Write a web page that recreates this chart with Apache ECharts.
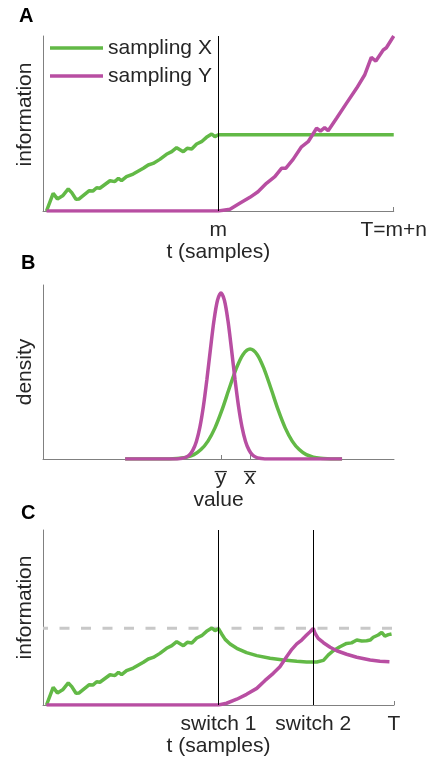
<!DOCTYPE html>
<html>
<head>
<meta charset="utf-8">
<script src="https://cdn.jsdelivr.net/npm/echarts@6/dist/echarts.min.js"></script>
<style>
  html, body { margin: 0; background: #fff; }
  #chart { width: 430px; height: 759px; }
</style>
</head>
<body>
<div id="chart"></div>
<script>
// t in samples (0..100), information in % of axis height
const greenRise = [
  [1, 0], [2.9, 10.1], [4.1, 6.9], [5.6, 8.7], [7.2, 12.6], [8.2, 10.5], [9.4, 6.7],
  [10.3, 6.9], [13.2, 11.6], [14.2, 11.4], [15.3, 13.3], [16.2, 13.0], [19.1, 17.3],
  [20.5, 16.8], [21.5, 18.7], [22.4, 17.3], [23.8, 19.6], [25.7, 21.1], [28.6, 24.4],
  [30.0, 26.3], [31.4, 27.2], [33.3, 29.5], [35.2, 32.4], [36.7, 33.9], [38.1, 36.2],
  [40.0, 33.9], [41.1, 35.8], [42.4, 35.4], [43.8, 38.3], [45.2, 39.6], [46.6, 42.1],
  [48.1, 44.0], [49.0, 42.5], [50, 43.6]
];
const greenHoldA = [[50, 43.6], [100, 43.6]];
const magentaA = [
  [1, 0], [50, 0], [53.3, 1.0], [56.1, 4.4], [59, 7.8], [61.3, 11.0], [63.7, 15.8],
  [66.1, 19.6], [68, 24.4], [69.2, 24.4], [71.3, 29.5], [73.7, 36.7], [75.6, 39.6],
  [78, 47.3], [79.1, 45.7], [80.3, 47.6], [81.3, 45.9], [83.7, 53], [86.5, 61.5],
  [89.4, 70.1], [91.7, 77.7], [93.6, 87.8], [94.9, 85.7], [97, 92], [97.9, 93.3], [100, 100]
];
const ticksA = [50, 100];
const tickLabelsA = ["m", "T=m+n"];

// panel B: value vs density
const greenB = [
  [23.4, 0], [35, 0], [37, 0.001], [39, 0.004], [41, 0.011], [43, 0.025], [45, 0.054],
  [47, 0.103], [49, 0.179], [51, 0.282], [53, 0.402], [55, 0.517], [57, 0.601], [59, 0.632],
  [61, 0.601], [63, 0.517], [65, 0.402], [67, 0.282], [69, 0.179], [71, 0.103], [73, 0.054],
  [75, 0.025], [77, 0.011], [79, 0.004], [81, 0.001], [83, 0], [85.2, 0]
];
const magentaB = [
  [23.4, 0], [37.7, 0], [38.7, 0.001], [39.7, 0.004], [40.7, 0.010], [41.7, 0.023],
  [42.7, 0.051], [43.7, 0.101], [44.7, 0.183], [45.7, 0.303], [46.7, 0.458], [47.7, 0.631],
  [48.7, 0.794], [49.7, 0.911], [50.7, 0.954], [51.7, 0.911], [52.7, 0.794], [53.7, 0.631],
  [54.7, 0.458], [55.7, 0.303], [56.7, 0.183], [57.7, 0.101], [58.7, 0.051], [59.7, 0.023],
  [60.7, 0.010], [61.7, 0.004], [62.7, 0.001], [63.7, 0], [85.2, 0]
];
const ticksB = [50.7, 59];
const tickLabelsB = ["y\u0305", "x\u0305"];

// panel C: two switches
const greenAfterC = [
  [50.2, 43.6], [50.9, 40.6], [51.9, 37.5], [53.3, 34.9], [55.2, 32.4], [58, 29.9],
  [60.9, 28.2], [64.7, 26.7], [68.5, 25.7], [72.3, 25.0], [75.1, 24.6], [77, 24.6],
  [78, 24.6], [79.9, 25.5], [81.3, 28.6], [82.7, 31], [84.6, 33.3], [86.5, 35.2],
  [87.9, 35.5], [89.4, 37.1], [90.8, 36.6], [92.2, 36.7], [93.2, 37.1], [94.1, 38.7],
  [95.5, 40], [96.5, 41.5], [97.4, 39.4], [98.4, 40.2], [99.3, 40.6]
];
const magentaC = [
  [1, 0], [50, 0], [52.3, 1], [55.2, 3.3], [58, 6.1], [60.9, 9.5], [63.2, 13.9],
  [65.6, 18.1], [67.5, 21.9], [69.4, 27.6], [70.9, 31.8], [72.3, 34.9], [73.7, 37.1],
  [75.1, 40], [76.1, 41.9], [77, 43.8], [77.5, 41], [78.4, 38.1], [79.9, 35.6],
  [81.8, 33], [83.7, 31], [86.5, 29], [89.4, 27.3], [93.2, 25.7], [96, 25], [98.7, 24.7]
];
const dashedLevel = [[0, 43.8], [100, 43.8]];
const switches = [50, 77];
const ticksC = [50, 77, 100];
const tickLabelsC = ["switch 1", "switch 2", "T"];

const GREEN = "#62b946";
const MAGENTA = "#b84ea2";
const TEXT = "#262626";
const AXIS = "#808080";
const FONT = "'Liberation Sans', Arial, sans-serif";
const LW = 3.5;

function pick(ticks, labels) {
  return (v) => {
    let best = 0;
    ticks.forEach((t, i) => { if (Math.abs(t - v) < Math.abs(ticks[best] - v)) best = i; });
    return labels[best];
  };
}

function xAxisFor(grid, ticks, labels, name, gap) {
  return {
    type: "value", gridIndex: grid, min: 0, max: 100,
    name: name, nameLocation: "middle", nameGap: gap,
    nameTextStyle: { color: TEXT, fontSize: 21, fontFamily: FONT },
    axisLine: { show: true, onZero: false, lineStyle: { color: AXIS, width: 1 } },
    axisTick: { show: true, inside: true, length: 4, customValues: ticks, lineStyle: { color: AXIS } },
    axisLabel: {
      show: true, customValues: ticks, margin: 9, formatter: pick(ticks, labels),
      color: TEXT, fontSize: 21, fontFamily: FONT
    },
    splitLine: { show: false }
  };
}

function yAxisFor(grid, max, name, shift) {
  return {
    type: "value", gridIndex: grid, min: 0, max: max,
    name: name, nameLocation: "middle", nameGap: 7,
    nameTextStyle: { color: TEXT, fontSize: 21, fontFamily: FONT, padding: [0, 0, 0, shift] },
    axisLine: { show: true, lineStyle: { color: AXIS, width: 1 } },
    axisTick: { show: false },
    axisLabel: { show: false },
    splitLine: { show: false }
  };
}

function line(name, color, x, y, data, extra) {
  return Object.assign({
    type: "line", name: name, xAxisIndex: x, yAxisIndex: y, data: data,
    showSymbol: false, symbol: "none", color: color,
    lineStyle: { color: color, width: LW }
  }, extra || {});
}

function vlines(values) {
  return {
    silent: true, symbol: "none", label: { show: false }, animation: false,
    lineStyle: { color: "#000", width: 1, type: "solid" },
    emphasis: { disabled: true },
    data: values.map((v) => ({ xAxis: v }))
  };
}

const chart = echarts.init(document.getElementById("chart"));
chart.setOption({
  animation: false,
  backgroundColor: "#fff",
  title: [
    { text: "A", left: 19, top: 6 },
    { text: "B", left: 21, top: 253 },
    { text: "C", left: 21, top: 503 }
  ].map((t) => Object.assign(t, {
    padding: 0, textStyle: { color: "#000", fontSize: 20, fontWeight: "bold", fontFamily: FONT }
  })),
  legend: {
    data: ["sampling X", "sampling Y"],
    orient: "vertical", left: 50, top: 37.5, padding: 0,
    icon: "rect", itemWidth: 53, itemHeight: LW, itemGap: 7, selectedMode: false,
    textStyle: { color: TEXT, fontSize: 21, fontFamily: FONT }
  },
  grid: [
    { left: 43, top: 36, width: 351, height: 175 },
    { left: 43, top: 285, width: 351, height: 174 },
    { left: 43, top: 530, width: 351, height: 175 }
  ],
  xAxis: [
    xAxisFor(0, ticksA, tickLabelsA, "t (samples)", 31),
    xAxisFor(1, ticksB, tickLabelsB, "value", 31),
    xAxisFor(2, ticksC, tickLabelsC, "t (samples)", 31)
  ],
  yAxis: [
    yAxisFor(0, 100, "information", 18),
    yAxisFor(1, 1, "density", 0),
    yAxisFor(2, 100, "information", 20)
  ],
  series: [
    line("sampling X", GREEN, 0, 0, greenRise.concat(greenHoldA.slice(1))),
    line("sampling Y", MAGENTA, 0, 0, magentaA, { markLine: vlines([ticksA[0]]) }),
    line("sampling X", GREEN, 1, 1, greenB, { smooth: 0.3 }),
    line("sampling Y", MAGENTA, 1, 1, magentaB, { smooth: 0.3 }),
    line("level", "#c8c8c8", 2, 2, dashedLevel, {
      lineStyle: { color: "#c8c8c8", width: 3, type: [10, 11.5], dashOffset: 5 }
    }),
    line("sampling X", GREEN, 2, 2, greenRise.concat(greenAfterC)),
    line("sampling Y", MAGENTA, 2, 2, magentaC, { markLine: vlines(switches) })
  ]
});
</script>
</body>
</html>
